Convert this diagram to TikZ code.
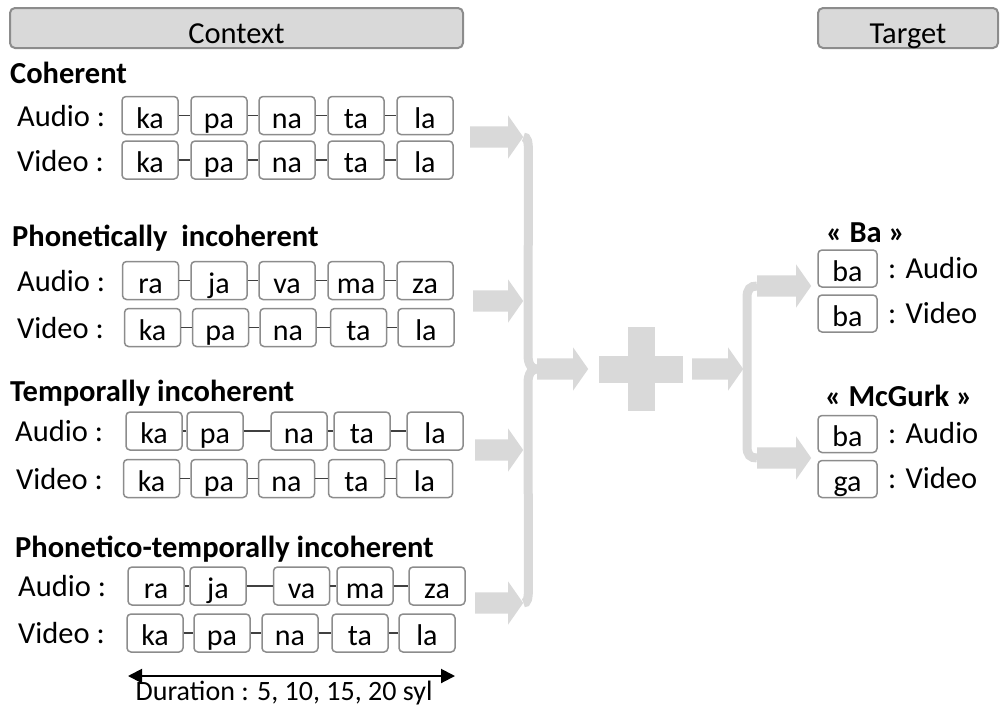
\documentclass[tikz,border=0pt]{standalone}
\usepackage{fontspec}
\setmainfont{Carlito}
\usepackage{tikz}
\usetikzlibrary{calc, arrows.meta, shapes.arrows}
\definecolor{boxgray}{HTML}{8C8C8C}
\definecolor{hdrfill}{HTML}{D9D9D9}
\definecolor{arrgray}{HTML}{D9D9D9}
\definecolor{lnkgray}{HTML}{404040}
\tikzset{
  syl_b/.style = {draw=boxgray, line width=1.5pt, rounded corners=4pt,
    minimum width=56pt, minimum height=38pt, inner sep=0pt,
    text height=25.5pt, text depth=0pt, font=\fontsize{30}{32}\selectfont},% syllabe
  tgt_b/.style = {syl_b, minimum width=59pt, minimum height=37pt},% syllabe cible
  syl_l/.style = {draw=lnkgray, line width=1.2pt},% lien entre syllabes
  hdr_b/.style = {draw=boxgray, fill=hdrfill, line width=2pt, rounded corners=5pt,
    minimum height=40pt, inner sep=0pt, text height=30pt, text depth=0pt,
    font=\fontsize{30.5}{32}\selectfont},% en-tete
  lbl/.style = {anchor=base west, inner sep=0pt,
    font=\fontsize{30.5}{32}\selectfont},% etiquette
  ttl/.style = {lbl, font=\fontsize{30.5}{32}\selectfont\bfseries},% titre
  garr/.style = {single arrow, fill=arrgray, draw=none, anchor=tail,
    inner sep=0pt, inner ysep=10.5pt, single arrow head extend=11pt,
    single arrow tip angle=110, minimum width=43pt},% fleche grise
  gbr/.style = {draw=arrgray, line width=9pt}% accolade grise
}
\begin{document}
\begin{tikzpicture}[x=1pt, y=-1pt]
\useasboundingbox (0,0) rectangle (1000,710);

% en-tetes
\node[hdr_b, minimum width=453pt] (ctx) at (236.5,28) {Context};
\node[hdr_b, minimum width=180pt] (tgt) at (908,28) {Target};

% coherent
\node[ttl] (t1) at (10,83) {Coherent};
\node[lbl] (la1) at (17,126) {Audio :};
\node[lbl] (lv1) at (17,171) {Video :};
\node[syl_b] (ca1) at (150,115.5) {ka};
\node[syl_b] (ca2) at (219,115.5) {pa};
\node[syl_b] (ca3) at (287,115.5) {na};
\node[syl_b] (ca4) at (356,115.5) {ta};
\node[syl_b] (ca5) at (425,115.5) {la};
\node[syl_b] (cv1) at (150,160) {ka};
\node[syl_b] (cv2) at (219,160) {pa};
\node[syl_b] (cv3) at (287,160) {na};
\node[syl_b] (cv4) at (356,160) {ta};
\node[syl_b] (cv5) at (425,160) {la};

% phonetiquement incoherent
\node[ttl] (t2) at (12,246) {Phonetically\ \ incoherent};
\node[lbl] (la2) at (17,291) {Audio :};
\node[lbl] (lv2) at (17,338) {Video :};
\node[syl_b] (pa1) at (150.5,280.5) {ra};
\node[syl_b] (pa2) at (219,280.5) {ja};
\node[syl_b] (pa3) at (287,280.5) {va};
\node[syl_b] (pa4) at (356,280.5) {ma};
\node[syl_b] (pa5) at (425,280.5) {za};
\node[syl_b] (pv1) at (152.5,327.5) {ka};
\node[syl_b] (pv2) at (220.5,327.5) {pa};
\node[syl_b] (pv3) at (288,327.5) {na};
\node[syl_b] (pv4) at (358.5,327.5) {ta};
\node[syl_b] (pv5) at (426,327.5) {la};

% temporellement incoherent
\node[ttl] (t3) at (10,401) {Temporally incoherent};
\node[lbl] (la3) at (15,441.5) {Audio :};
\node[lbl] (lv3) at (16,489) {Video :};
\node[syl_b] (ta1) at (154,431) {ka};
\node[syl_b] (ta2) at (215,431) {pa};
\node[syl_b] (ta3) at (299,431) {na};
\node[syl_b] (ta4) at (362,431) {ta};
\node[syl_b] (ta5) at (435,431) {la};
\node[syl_b] (tv1) at (151.5,478.5) {ka};
\node[syl_b] (tv2) at (219,478.5) {pa};
\node[syl_b] (tv3) at (286.5,478.5) {na};
\node[syl_b] (tv4) at (356.5,478.5) {ta};
\node[syl_b] (tv5) at (424.5,478.5) {la};

% phonetico-temporellement incoherent
\node[ttl] (t4) at (15,557) {Phonetico-temporally incoherent};
\node[lbl] (la4) at (18,596.5) {Audio :};
\node[lbl] (lv4) at (18,643.5) {Video :};
\node[syl_b] (qa1) at (156,586) {ra};
\node[syl_b] (qa2) at (218,586) {ja};
\node[syl_b] (qa3) at (301.5,586) {va};
\node[syl_b] (qa4) at (365,586) {ma};
\node[syl_b] (qa5) at (437,586) {za};
\node[syl_b] (qv1) at (155,633) {ka};
\node[syl_b] (qv2) at (222,633) {pa};
\node[syl_b] (qv3) at (290,633) {na};
\node[syl_b] (qv4) at (360,633) {ta};
\node[syl_b] (qv5) at (427,633) {la};

\foreach \r in {ca,cv,pa,pv,ta,tv,qa,qv}
  \foreach \i/\j in {1/2,2/3,3/4,4/5}
    \draw[syl_l] (\r\i.east) -- (\r\j.west);

% duree
\coordinate (d_l) at (128,676);
\coordinate (d_r) at (455,676);
\draw[{Triangle[length=14pt,width=14pt]}-{Triangle[length=14pt,width=14pt]}, line width=2pt] (d_l) -- (d_r);
\node[anchor=base, inner sep=0pt, font=\fontsize{28}{30}\selectfont] (dur) at (284,700) {Duration : 5, 10, 15, 20 syl};

% fleches grises
\node[garr, minimum height=53pt] (g1) at (470,137) {};
\node[garr, minimum height=50pt] (g2) at (473,301) {};
\node[garr, minimum height=48pt] (g3) at (475,450) {};
\node[garr, minimum height=48pt] (g4) at (475,603) {};
\node[garr, minimum height=51pt] (g5) at (537,369) {};
\node[garr, minimum height=51pt] (g6) at (692,369) {};
\node[garr, minimum height=54pt] (g7) at (757,286) {};
\node[garr, minimum height=54pt] (g8) at (757,458) {};

\draw[gbr] (g1.tip) .. controls ($(g1.tip)+(4,0)$) and ($(g1.tip)+(5,4)$) .. ($(g1.tip)+(5,16)$) --
  ($(g5.tail)+(-9,-14)$) .. controls ($(g5.tail)+(-9,-4)$) and ($(g5.tail)+(-5,0)$) .. (g5.tail);
\draw[gbr] (g4.tip) .. controls ($(g4.tip)+(4,0)$) and ($(g4.tip)+(5,-4)$) .. ($(g4.tip)+(5,-16)$) --
  ($(g5.tail)+(-9,14)$) .. controls ($(g5.tail)+(-9,4)$) and ($(g5.tail)+(-5,0)$) .. (g5.tail);
\draw[gbr] (g7.tail) .. controls ($(g7.tail)+(-7,0)$) and ($(g7.tail)+(-10,3)$) .. ($(g7.tail)+(-10,12)$) --
  ($(g8.tail)+(-10,-12)$) .. controls ($(g8.tail)+(-10,-3)$) and ($(g8.tail)+(-7,0)$) .. (g8.tail);

% plus
\fill[arrgray] (627.5,327) rectangle (654.5,411);
\fill[arrgray] (599,355.5) rectangle (683,382.5);

% cibles
\node[ttl] (t5) at (826,242) {« Ba »};
\node[tgt_b] (ba1) at (847.5,268.5) {ba};
\node[tgt_b] (bv1) at (847.5,313.5) {ba};
\node[lbl] (lba1) at (888,278) {: Audio};
\node[lbl] (lbv1) at (888,323) {: Video};
\node[ttl] (t6) at (825,406) {« McGurk »};
\node[tgt_b] (ba2) at (847.5,434) {ba};
\node[tgt_b] (bv2) at (847.5,479) {ga};
\node[lbl] (lba2) at (888,443.5) {: Audio};
\node[lbl] (lbv2) at (888,488.5) {: Video};
\end{tikzpicture}
\end{document}
